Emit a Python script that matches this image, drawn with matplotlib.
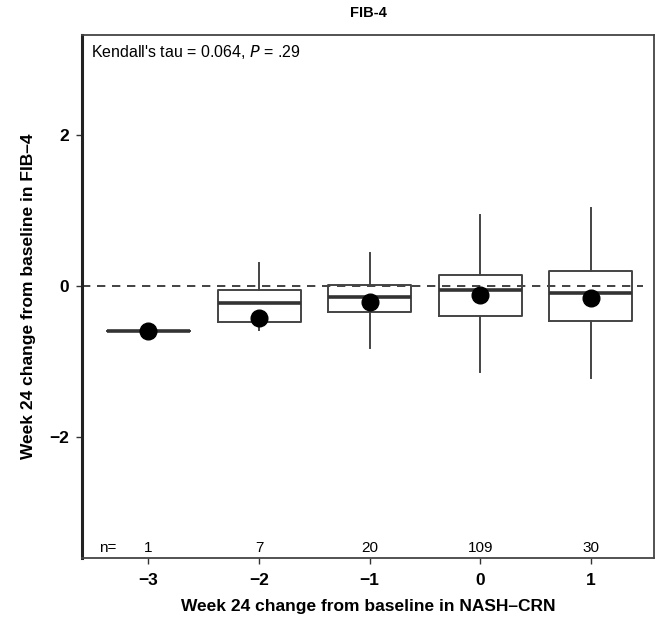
# FIB-4 vs NASH-CRN change boxplot
import matplotlib.pyplot as plt
import numpy as np

plt.rcParams['font.family'] = ['Liberation Sans', 'DejaVu Sans']

# dados
grupos = [-3, -2, -1, 0, 1]
n_obs = [1, 7, 20, 109, 30]
medianas = [-0.60, -0.23, -0.15, -0.06, -0.09]
q1 = [-0.60, -0.48, -0.34, -0.40, -0.47]
q3 = [-0.60, -0.05, 0.01, 0.15, 0.20]
whisk_lo = [-0.60, -0.58, -0.82, -1.14, -1.22]
whisk_hi = [-0.60, 0.30, 0.44, 0.94, 1.03]
medias = [-0.60, -0.42, -0.21, -0.12, -0.16]

stats = []
for i in range(len(grupos)):
    stats.append({'med': medianas[i], 'q1': q1[i], 'q3': q3[i],
                  'whislo': whisk_lo[i], 'whishi': whisk_hi[i], 'fliers': []})

fig = plt.figure(figsize=(6.63, 6.19), dpi=100)
ax = fig.add_axes([82/663, 1-558/619, (654-82)/663, (558-35)/619])

ax.axhline(0, xmin=0, xmax=0.98, color='#222222', linestyle=(0, (5, 4)), linewidth=1.2, zorder=1)

ax.bxp(stats, positions=grupos, widths=0.75, showcaps=False, showfliers=False,
       boxprops=dict(color='#444444', linewidth=1.4),
       whiskerprops=dict(color='#444444', linewidth=1.4),
       medianprops=dict(color='#333333', linewidth=2.6),
       manage_ticks=False, zorder=2)

ax.plot(grupos, medias, marker='o', linestyle='', color='black', markersize=12, zorder=3)

ax.set_xlim(-3.6, 1.57)
ax.set_ylim(-3.6, 3.32)
ax.set_xticks(grupos)
ax.set_xticklabels(['\u22123', '\u22122', '\u22121', '0', '1'])
ax.set_yticks([-2, 0, 2])
ax.set_yticklabels(['\u22122', '0', '2'])
ax.tick_params(labelsize=12.5, length=4, width=1, color='#333333')
ax.tick_params(axis='x', pad=7)
ax.tick_params(axis='y', pad=5)
for lab in ax.get_xticklabels() + ax.get_yticklabels():
    lab.set_fontweight('bold')

for s in ['top', 'right', 'bottom']:
    ax.spines[s].set_color('#444444')
    ax.spines[s].set_linewidth(1.3)
ax.spines['left'].set_color('#222222')
ax.spines['left'].set_linewidth(2.2)

# n= rotulos
ax.text(-3.37, -3.47, 'n=', fontsize=11, ha='center', va='center')
for g, n in zip(grupos, n_obs):
    ax.text(g, -3.47, str(n), fontsize=11, ha='center', va='center')

ax.text(0.015, 0.985, "Kendall's tau = 0.064, $\\mathit{P}$ = .29", transform=ax.transAxes,
        fontsize=11.5, ha='left', va='top')

ax.set_xlabel('Week 24 change from baseline in NASH\u2013CRN', fontsize=12.5, fontweight='bold', labelpad=8)
ax.set_ylabel('Week 24 change from baseline in FIB\u20134', fontsize=12.5, fontweight='bold', labelpad=10)
fig.text(368/663, 1-13/619, 'FIB-4', fontsize=10.5, fontweight='bold', ha='center', va='center')

plt.savefig('out.png', dpi=100)
